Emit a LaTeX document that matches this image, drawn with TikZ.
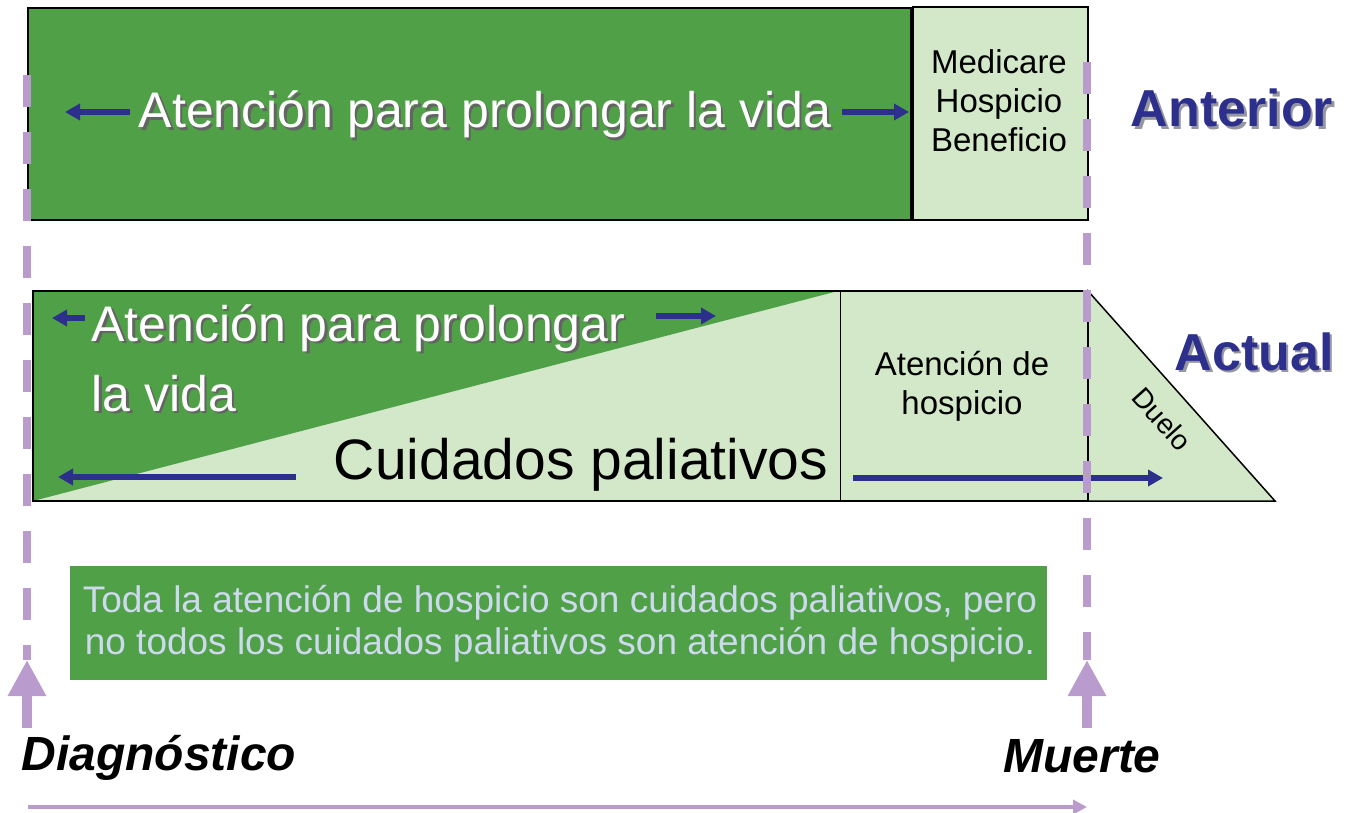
\documentclass[tikz,border=0pt]{standalone}
\usepackage{fontspec}
\setmainfont{Liberation Sans}
\usetikzlibrary{arrows.meta}
\definecolor{fieldgreen}{RGB}{80,160,71}
\definecolor{palegreen}{RGB}{211,232,200}
\definecolor{inkblue}{RGB}{44,48,140}
\definecolor{lilac}{RGB}{185,155,205}
\definecolor{mistblue}{RGB}{205,218,238}
\definecolor{shade}{RGB}{100,100,100}
\definecolor{haze}{RGB}{150,150,160}
\newcommand{\fsz}[2]{\fontsize{#1}{#2}\selectfont}
\newcommand{\shad}[3]{\makebox[0pt][l]{\hspace{2.5pt}\raisebox{-2.5pt}{\color{#2}#3}}{\color{#1}#3}}

\begin{document}
\begin{tikzpicture}[x=1pt,y=-1pt,
  lead/.style={line width=5.5pt, inkblue, -{Triangle[length=15pt,width=16pt]}},
  timeline/.style={lilac, line width=8pt, dash pattern=on 32pt off 25pt},
  pointer/.style={lilac, line width=10pt, -{Triangle[length=36pt,width=36pt]}}]
\useasboundingbox (0,0) rectangle (1352,813);

% anterior
\draw[line width=2pt, fill=fieldgreen] (28,8) rectangle (911,220);
\draw[line width=2pt, fill=palegreen] (913,7) rectangle (1088,220);
\node[anchor=base] (prolong) at (485,128) {\fsz{50}{60}\shad{white}{shade}{Atención para prolongar la vida}};
\node[align=center, font=\fsz{33}{39}] (benefit) at (999,101) {Medicare\\Hospicio\\Beneficio};
\node[anchor=base] (before) at (1232,127) {\fsz{52}{60}\bfseries\shad{inkblue}{haze}{Anterior}};
\coordinate (backA) at (130,112);
\coordinate (backB) at (65,112);
\coordinate (fwdA) at (842,112);
\coordinate (fwdB) at (909,112);
\draw[lead] (backA) -- (backB);
\draw[lead] (fwdA) -- (fwdB);

% actual
\fill[palegreen] (33,291) rectangle (1088,501);
\fill[fieldgreen] (33,291) -- (838,291) -- (33,501) -- cycle;
\draw[line width=1.5pt, fill=palegreen] (1088,291) -- (1275,501) -- (1088,501) -- cycle;
\draw[line width=1.5pt] (33,291) rectangle (1088,501);
\draw[line width=1pt] (840,291) -- (840,501);
\node[anchor=base west] (prolong2) at (88,341) {\fsz{50}{60}\shad{white}{shade}{Atención para prolongar}};
\node[anchor=base west] (prolong3) at (88,411) {\fsz{50}{60}\shad{white}{shade}{la vida}};
\node[anchor=base] (palliative) at (581,479) {\fsz{57}{60}Cuidados paliativos};
\node[align=center, font=\fsz{33}{39}] (hospice) at (962,386) {Atención de\\hospicio};
\node[rotate=-48, inner sep=0pt] (grief) at (1162,419) {\fsz{28}{30}Duelo};
\node[anchor=base] (now) at (1254,370) {\fsz{52}{60}\bfseries\shad{inkblue}{haze}{Actual}};
\coordinate (lifeA) at (85,318);
\coordinate (lifeB) at (52,318);
\coordinate (lifeC) at (656,316);
\coordinate (lifeD) at (716,316);
\coordinate (palA) at (296,477);
\coordinate (palB) at (58,477);
\coordinate (palC) at (853,478);
\coordinate (palD) at (1163,478);
\draw[lead] (lifeA) -- (lifeB);
\draw[lead] (lifeC) -- (lifeD);
\draw[lead] (palA) -- (palB);
\draw[lead] (palC) -- (palD);

% nota
\fill[fieldgreen] (70,566) rectangle (1047,680);
\node[align=center, text=mistblue, font=\fsz{37}{42}] (note) at (560,624) {Toda la atención de hospicio son cuidados paliativos, pero\\no todos los cuidados paliativos son atención de hospicio.};

% diagnostico / muerte
\coordinate (diagTop) at (27,75);
\coordinate (diagBot) at (27,660);
\coordinate (deathTop) at (1087,62);
\coordinate (deathBot) at (1087,660);
\draw[timeline] (diagTop) -- (diagBot);
\draw[timeline] (deathTop) -- (deathBot);
\coordinate (diagFoot) at (27,728);
\coordinate (deathFoot) at (1087,728);
\draw[pointer] (diagFoot) -- (diagBot);
\draw[pointer] (deathFoot) -- (deathBot);
\node[anchor=base west] (diagnosis) at (18,770) {\fsz{48}{56}\bfseries\itshape Diagnóstico};
\node[anchor=base] (death) at (1082,772) {\fsz{48}{56}\bfseries\itshape Muerte};
\coordinate (timeA) at (28,807);
\coordinate (timeB) at (1087,807);
\draw[lilac, line width=4pt, -{Triangle[length=14pt,width=14pt]}] (timeA) -- (timeB);
\end{tikzpicture}
\end{document}
